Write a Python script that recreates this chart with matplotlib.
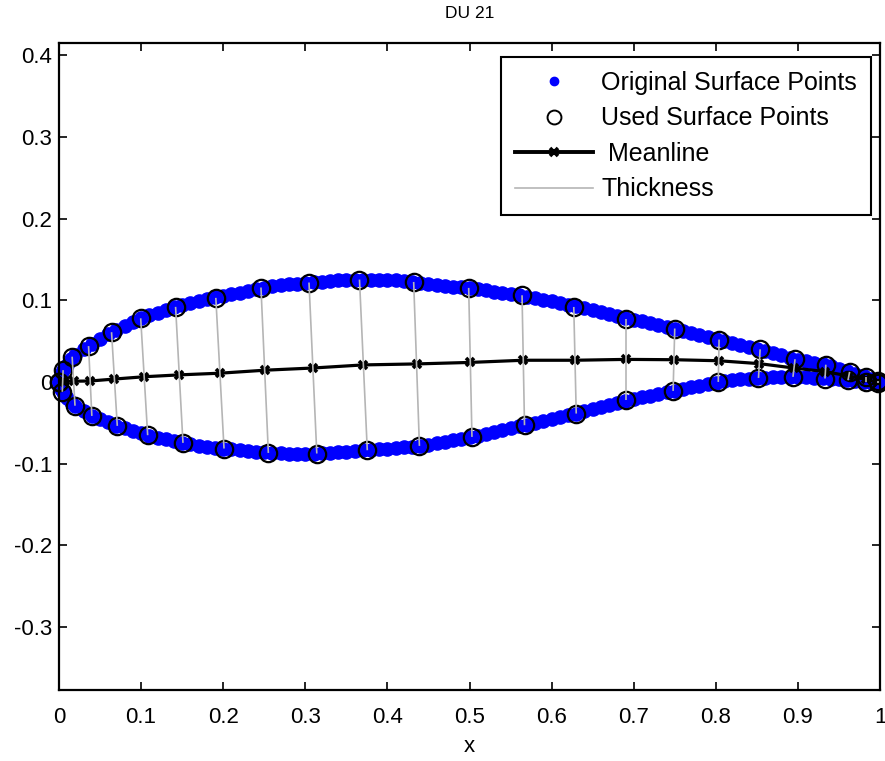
import numpy as np
import matplotlib
matplotlib.use("Agg")
import matplotlib.pyplot as plt
from matplotlib.collections import LineCollection
from matplotlib.lines import Line2D
from matplotlib.ticker import FixedLocator, FuncFormatter

plt.rcParams['font.family'] = ['Liberation Sans', 'DejaVu Sans']

title = "DU 21"

# Original airfoil surface coordinates (upper and lower sides)
x_orig = [0.0, 0.0025, 0.005, 0.0075, 0.01, 0.015, 0.02, 0.03, 0.04, 0.05,
          0.06, 0.07, 0.08, 0.09, 0.10, 0.11, 0.12, 0.13, 0.14, 0.15,
          0.16, 0.17, 0.18, 0.19, 0.20, 0.21, 0.22, 0.23, 0.24, 0.25,
          0.26, 0.27, 0.28, 0.29, 0.30, 0.31, 0.32, 0.33, 0.34, 0.35,
          0.36, 0.37, 0.38, 0.39, 0.40, 0.41, 0.42, 0.43, 0.44, 0.45,
          0.46, 0.47, 0.48, 0.49, 0.50, 0.51, 0.52, 0.53, 0.54, 0.55,
          0.56, 0.57, 0.58, 0.59, 0.60, 0.61, 0.62, 0.63, 0.64, 0.65,
          0.66, 0.67, 0.68, 0.69, 0.70, 0.71, 0.72, 0.73, 0.74, 0.75,
          0.76, 0.77, 0.78, 0.79, 0.80, 0.81, 0.82, 0.83, 0.84, 0.85,
          0.86, 0.87, 0.88, 0.89, 0.90, 0.91, 0.92, 0.93, 0.94, 0.95,
          0.96, 0.97, 0.98, 0.99, 1.00]

y_orig_upper = [0.000, 0.010, 0.0145, 0.018, 0.021, 0.0285, 0.033, 0.041, 0.047, 0.053,
                0.059, 0.064, 0.069, 0.074, 0.078, 0.0815, 0.085, 0.0885, 0.0915, 0.094,
                0.0965, 0.099, 0.1015, 0.1035, 0.1055, 0.1075, 0.1095, 0.1115, 0.1135, 0.1155,
                0.117, 0.1185, 0.1195, 0.1205, 0.1215, 0.1225, 0.123, 0.1238, 0.1244, 0.1249,
                0.1252, 0.1254, 0.1253, 0.1251, 0.1248, 0.1243, 0.1236, 0.1227, 0.1217, 0.1205,
                0.1193, 0.118, 0.1167, 0.1163, 0.115, 0.1137, 0.1123, 0.1108, 0.1093, 0.1078,
                0.1063, 0.1046, 0.1028, 0.1009, 0.0990, 0.0969, 0.0948, 0.0926, 0.0904, 0.0882,
                0.0859, 0.0835, 0.0811, 0.0787, 0.0765, 0.0744, 0.0722, 0.0700, 0.0678, 0.0655,
                0.0630, 0.0605, 0.0580, 0.0555, 0.0530, 0.0506, 0.0482, 0.0458, 0.0434, 0.0410,
                0.0385, 0.0360, 0.0330, 0.0300, 0.0272, 0.0254, 0.0236, 0.0217, 0.0192, 0.0163,
                0.0133, 0.0103, 0.0073, 0.0042, 0.0012]

y_orig_lower = [0.000, -0.0085, -0.0125, -0.016, -0.019, -0.025, -0.0295, -0.036, -0.0415, -0.0455,
                -0.0495, -0.0533, -0.0567, -0.0598, -0.0628, -0.0655, -0.068, -0.0703, -0.0725, -0.0745,
                -0.0762, -0.0778, -0.0792, -0.0804, -0.0815, -0.0826, -0.0836, -0.0845, -0.0853, -0.0861,
                -0.0867, -0.0872, -0.0875, -0.0877, -0.0877, -0.0876, -0.0873, -0.0868, -0.0862, -0.0855,
                -0.0847, -0.0838, -0.0832, -0.0825, -0.0818, -0.0809, -0.0800, -0.0791, -0.0781, -0.0766,
                -0.0750, -0.0732, -0.0713, -0.0694, -0.0675, -0.0655, -0.0633, -0.0611, -0.0589, -0.0566,
                -0.0543, -0.0521, -0.0498, -0.0476, -0.0453, -0.0430, -0.0408, -0.0386, -0.0360, -0.0334,
                -0.0308, -0.0282, -0.0255, -0.0227, -0.0205, -0.0185, -0.0165, -0.0146, -0.0127, -0.0106,
                -0.0085, -0.0064, -0.0044, -0.0025, -0.0006, 0.0010, 0.0023, 0.0034, 0.0043, 0.0050,
                0.0055, 0.0059, 0.0062, 0.0063, 0.0062, 0.0058, 0.0053, 0.0046, 0.0039, 0.0031,
                0.0023, 0.0013, 0.0004, -0.0008, -0.0018]

# Resampled surface points used for the meanline / thickness computation
x_used_upper = [0.0, 0.005, 0.016, 0.036, 0.064, 0.0995, 0.142, 0.191, 0.246, 0.3045,
                0.366, 0.432, 0.499, 0.564, 0.627, 0.691, 0.750, 0.804, 0.854, 0.8965,
                0.934, 0.963, 0.983, 0.997]
y_used_upper = [0.0, 0.0145, 0.031, 0.044, 0.061, 0.078, 0.092, 0.103, 0.1157, 0.1218,
                0.1254, 0.1225, 0.1152, 0.1062, 0.0919, 0.0777, 0.0655, 0.052, 0.040, 0.0279,
                0.0212, 0.0124, 0.0063, 0.0008]
x_used_lower = [0.0, 0.004, 0.0195, 0.040, 0.071, 0.108, 0.151, 0.201, 0.255, 0.314,
                0.3755, 0.439, 0.503, 0.567, 0.630, 0.691, 0.748, 0.803, 0.852, 0.894,
                0.933, 0.961, 0.983, 0.997]
y_used_lower = [0.0, -0.012, -0.029, -0.0415, -0.0537, -0.0651, -0.0745, -0.0814, -0.0868, -0.0875,
                -0.0835, -0.0782, -0.0672, -0.0529, -0.0386, -0.0223, -0.0109, 0.0001, 0.005, 0.0063,
                0.0043, 0.0022, 0.0001, -0.0018]

x_ticks = [0, 0.1, 0.2, 0.3, 0.4, 0.5, 0.6, 0.7, 0.8, 0.9, 1]
y_ticks = [-0.3, -0.2, -0.1, 0, 0.1, 0.2, 0.3, 0.4]
legend_labels = ["Original Surface Points", "Used Surface Points", " Meanline", "Thickness"]

xu, yu = np.array(x_used_upper), np.array(y_used_upper)
xl, yl = np.array(x_used_lower), np.array(y_used_lower)
x_mean = (xu + xl) / 2
y_mean = (yu + yl) / 2

W, H = 885, 761
fig = plt.figure(figsize=(W / 100, H / 100), dpi=100)
ax = fig.add_axes([59 / W, 71 / H, 821 / W, 647 / H])

blue = (0, 0, 1)
gray = '#b5b5b5'

ax.plot(np.concatenate([x_orig, x_orig]), np.concatenate([y_orig_upper, y_orig_lower]),
        linestyle='none', marker='o', ms=9.5, mfc=blue, mec=blue, clip_on=False, zorder=2)
ax.plot(np.concatenate([xu, xl]), np.concatenate([yu, yl]),
        linestyle='none', marker='o', ms=12.5, mfc='none', mec='black', mew=1.6,
        clip_on=False, zorder=3)
ax.plot(x_mean, y_mean, color='black', lw=2.3, marker='x', ms=6, mew=2.6, zorder=4)
segs = [[(a, b), (c, d)] for a, b, c, d in zip(xu, yu, xl, yl)]
ax.add_collection(LineCollection(segs, colors=gray, linewidths=1.2, zorder=5))

ax.set_xlim(0, 1)
ax.set_ylim(-0.377, 0.415)

ax.xaxis.set_major_locator(FixedLocator(x_ticks))
ax.yaxis.set_major_locator(FixedLocator(y_ticks))
fmt = FuncFormatter(lambda v, p: "%g" % round(v, 2))
ax.xaxis.set_major_formatter(fmt)
ax.yaxis.set_major_formatter(fmt)
ax.tick_params(axis='both', direction='in', length=6, width=1.2, labelsize=16,
               top=True, right=True, colors='black')
ax.tick_params(axis='x', pad=12)
ax.tick_params(axis='y', pad=5)
for s in ax.spines.values():
    s.set_linewidth(1.6)

fig.text(470 / W, 1 - 14 / H, title, ha='center', va='center', fontsize=12.5)
fig.text(469 / W, 1 - 747 / H, "x", ha='center', va='center', fontsize=16)

handles = [
    Line2D([], [], linestyle='none', marker='o', ms=6, mfc=blue, mec=blue),
    Line2D([], [], linestyle='none', marker='o', ms=10, mfc='none', mec='black', mew=1.4),
    Line2D([], [], color='black', lw=2.8, marker='x', ms=6, mew=2.6),
    Line2D([], [], color=gray, lw=1.2),
]
leg = ax.legend(handles, legend_labels, loc='upper right', bbox_to_anchor=(0.989, 0.978),
                borderaxespad=0, fancybox=False, framealpha=1, edgecolor='black',
                fontsize=18, handlelength=3.1, handletextpad=0.35, labelspacing=0.46,
                borderpad=0.55)
leg.get_frame().set_linewidth(1.5)

fig.savefig("out.png", dpi=100, facecolor='white')
